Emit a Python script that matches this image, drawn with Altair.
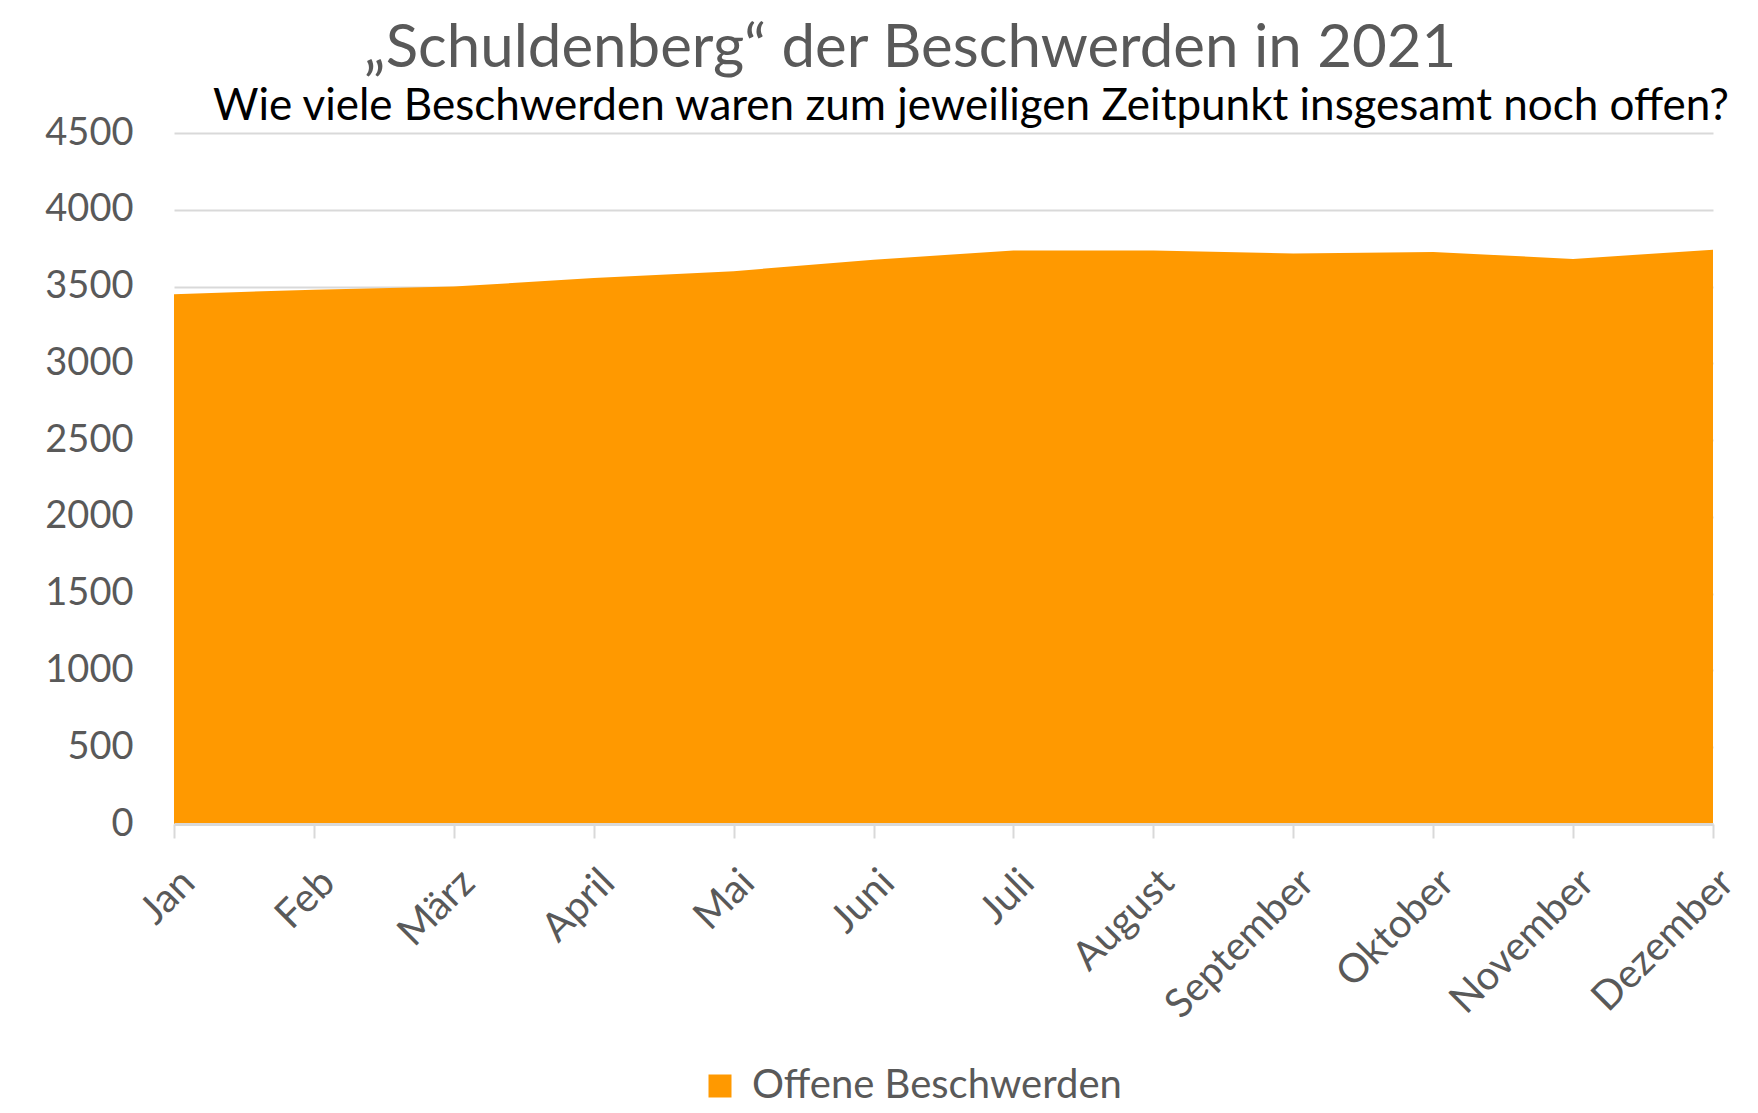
import altair as alt
import pandas as pd

months = ["Jan", "Feb", "März", "April", "Mai", "Juni", "Juli", "August",
          "September", "Oktober", "November", "Dezember"]
values = [3450, 3480, 3500, 3555, 3600, 3675, 3735, 3735, 3715, 3725, 3680, 3740]
series = "Offene Beschwerden"
title_text = "„Schuldenberg“ der Beschwerden in 2021"
subtitle_text = "Wie viele Beschwerden waren zum jeweiligen Zeitpunkt insgesamt noch offen?"
y_ticks = list(range(0, 4501, 500))

df = pd.DataFrame({"Monat": months, "Wert": values, "Serie": [series] * len(months)})

FONT = "Lato"
GRAY = "#595959"
LINE = "#D9D9D9"

area = alt.Chart(df).mark_area(color="#FF9900", opacity=1).encode(
    x=alt.X("Monat:N", sort=months,
            scale=alt.Scale(type="point", padding=0),
            axis=alt.Axis(title=None, labelAngle=-45, labelFontSize=40, labelColor=GRAY,
                          labelFont=FONT, domainColor=LINE, domainWidth=3,
                          tickColor=LINE, tickWidth=2, tickSize=14, labelPadding=24,
                          grid=False, zindex=1, labelOverlap=False, labelLimit=0)),
    y=alt.Y("Wert:Q", scale=alt.Scale(domain=[0, 4500], nice=False),
            axis=alt.Axis(title=None, values=y_ticks, format="d", labelFontSize=38,
                          labelColor=GRAY, labelFont=FONT, domain=False, ticks=False,
                          labelPadding=41, gridColor=LINE, gridWidth=2)),
    color=alt.Color("Serie:N", scale=alt.Scale(domain=[series], range=["#FF9900"]),
                    legend=alt.Legend(title=None, orient="none", legendX=526, legendY=933,
                                      symbolType="square", symbolSize=529,
                                      symbolStrokeWidth=0, labelFontSize=40,
                                      labelColor=GRAY, labelFont=FONT, labelOffset=12,
                                      labelLimit=0)),
)

title_df = pd.DataFrame({"t": [title_text]})
sub_df = pd.DataFrame({"t": [subtitle_text]})

title = alt.Chart(title_df).mark_text(
    font=FONT, fontSize=60, color=GRAY, align="center", baseline="alphabetic"
).encode(text="t:N", x=alt.value(910 - 174), y=alt.value(67 - 133))

subtitle = alt.Chart(sub_df).mark_text(
    font=FONT, fontSize=44, color="#000000", align="center", baseline="alphabetic"
).encode(text="t:N", x=alt.value(971 - 174), y=alt.value(120 - 133))

chart = alt.layer(area, title, subtitle).properties(
    width=1539, height=691,
    padding={"left": 166, "top": 125, "right": 37, "bottom": 289},
    autosize=alt.AutoSizeParams(type="none"),
).configure_view(stroke=None)

chart.save("out.html", embed_options={"renderer": "svg", "actions": False})
